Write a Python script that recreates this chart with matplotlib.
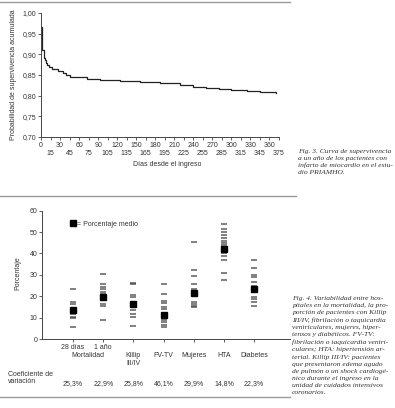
import matplotlib
matplotlib.use("Agg")
import matplotlib.pyplot as plt
from matplotlib.lines import Line2D

plt.rcParams["font.family"] = ["Liberation Sans", "DejaVu Sans"]

# ---------------- Fig. 3: curva de supervivencia ----------------
dias = [0, 1, 2, 4, 6, 8, 10, 13, 18, 26, 35, 40, 46, 56, 72, 93, 125,
        156, 188, 219, 240, 260, 280, 300, 325, 345, 370]
superv = [0.967, 0.939, 0.910, 0.890, 0.886, 0.880, 0.874, 0.870, 0.864,
          0.859, 0.854, 0.850, 0.846, 0.844, 0.841, 0.838, 0.836, 0.833,
          0.830, 0.826, 0.822, 0.819, 0.816, 0.813, 0.811, 0.808, 0.807]
y_ticks_sup = [0.70, 0.75, 0.80, 0.85, 0.90, 0.95, 1.00]

# ---------------- Fig. 4: variabilidad entre hospitales ----------------
categorias = ["28 días", "1 año", "\nKillip\nIII/IV", "\nFV-TV", "\nMujeres", "\nHTA", "\nDiabetes"]
val_28dias = [23.5, 17.5, 16.5, 14.5, 12.5, 11.5, 10.5, 10, 5.5]
val_1ano = [30.5, 25.8, 24.2, 23.5, 22, 21, 19, 16.5, 15.5, 9]
val_killip = [26, 25.5, 20.5, 19.5, 17.5, 15.5, 13.5, 11.5, 10.5, 6]
val_fvtv = [25.5, 21, 18, 17, 15, 14, 12, 9, 8, 6.5, 5.5]
val_mujeres = [45.5, 32.5, 29.5, 25.5, 23.5, 22.5, 20.5, 17.5, 16.5, 15.5, 14.8]
val_hta = [54, 51.5, 50, 48.5, 47, 46, 45, 44, 42, 40, 39, 37, 31, 27.5]
val_diabetes = [37, 33, 30, 29, 26.5, 25, 24, 22, 19.5, 18.5, 17.5, 15.5]
medias = [13.5, 19.8, 16.3, 11.3, 21.5, 42, 23.5]
coef_var = ["25,3%", "22,9%", "25,8%", "46,1%", "29,9%", "14,8%", "22,3%"]

W, H = 395, 408
fig = plt.figure(figsize=(W / 100, H / 100), dpi=100)

axis_col = "#444444"
txt_col = "#333333"
cap_font = ["Liberation Serif", "DejaVu Serif"]

# --- top chart ---
ax1 = fig.add_axes([41 / W, 1 - 137 / H, 238 / W, 124 / H])
ax1.step(dias, superv, where="post", color="#222222", lw=0.9)
ax1.set_xlim(0, 375)
ax1.set_ylim(0.70, 1.00)
ax1.set_yticks(y_ticks_sup)
ax1.set_yticklabels([f"{v:.2f}".replace(".", ",") for v in y_ticks_sup])
ax1.set_xticks(range(0, 361, 30))
ax1.set_xticks(range(15, 376, 30), minor=True)
ax1.set_xticklabels([str(d) for d in range(15, 376, 30)], minor=True)
ax1.tick_params(axis="both", which="both", length=2, width=0.6,
                labelsize=5, colors=axis_col, labelcolor=txt_col, pad=1.5)
ax1.tick_params(axis="x", which="minor", pad=7.5)
for s in ["top", "right"]:
    ax1.spines[s].set_visible(False)
for s in ["left", "bottom"]:
    ax1.spines[s].set_color(axis_col)
    ax1.spines[s].set_linewidth(0.7)
ax1.set_ylabel("Probabilidad de supervivencia acumulada", fontsize=5, color=txt_col)
ax1.yaxis.set_label_coords(-0.10, 0.5)
ax1.set_xlabel("Días desde el ingreso", fontsize=5, color=txt_col)
ax1.xaxis.set_label_coords(0.53, -0.195)

fig.text(298 / W, 1 - 149 / H,
         "Fig. 3. Curva de supervivencia\na un año de los pacientes con\n"
         "infarto de miocardio en el estu-\ndio PRIAMHO.",
         family=cap_font, style="italic",
         fontsize=5.4, va="top", ha="left", linespacing=1.4, color=txt_col)

# --- bottom chart ---
ax2 = fig.add_axes([42 / W, 1 - 339 / H, 248 / W, 128.3 / H])
grupos = [val_28dias, val_1ano, val_killip, val_fvtv, val_mujeres, val_hta, val_diabetes]
for i, vals in enumerate(grupos):
    ax2.plot([i + 1] * len(vals), vals, ls="none", marker="_", ms=3.8,
             mew=1.2, color="#3a3a3a", alpha=0.75)
ax2.plot(range(1, 8), medias, ls="none", marker="s", ms=4.5, color="black")
ax2.set_xlim(-0.03, 8.19)
ax2.set_ylim(0, 60)
ax2.set_yticks(range(0, 61, 10))
ax2.set_xticks(range(1, 8))
ax2.set_xticklabels(categorias, linespacing=1.25)
ax2.tick_params(axis="both", length=2, width=0.6, labelsize=5,
                colors=axis_col, labelcolor=txt_col, pad=1.5)
for s in ["top", "right"]:
    ax2.spines[s].set_visible(False)
for s in ["left", "bottom"]:
    ax2.spines[s].set_color(axis_col)
    ax2.spines[s].set_linewidth(0.7)
ax2.set_ylabel("Porcentaje", fontsize=5, color=txt_col)
ax2.yaxis.set_label_coords(-0.085, 0.51)

trans = ax2.get_xaxis_transform()
ax2.text(1.5, -0.128, "Mortalidad", transform=trans, ha="center", va="center",
         fontsize=5, color=txt_col)
for i, cv in enumerate(coef_var):
    ax2.text(i + 1, -0.345, cv, transform=trans, ha="center", va="center",
             fontsize=5, color=txt_col)
fig.text(8 / W, 1 - 378 / H, "Coeficiente de\nvariación", fontsize=5,
         va="center", ha="left", color=txt_col, linespacing=1.1)

leg_handle = Line2D([], [], ls="none", marker="s", ms=5, color="black")
ax2.legend([leg_handle], ["= Porcentaje medio"], loc="center left",
           bbox_to_anchor=(0.112, 0.895), frameon=False, fontsize=5,
           handlelength=0.8, handletextpad=0.2, borderpad=0, borderaxespad=0,
           labelcolor=txt_col)

fig.text(292 / W, 1 - 296 / H,
         "Fig. 4. Variabilidad entre hos-\npitales en la mortalidad, la pro-\n"
         "porción de pacientes con Killip\nIII/IV, fibrilación o taquicardia\n"
         "ventriculares, mujeres, hiper-\ntensos y diabéticos. FV-TV:\n"
         "fibrilación o taquicardia ventri-\nculares; HTA: hipertensión ar-\n"
         "terial. Killip III/IV: pacientes\nque presentaron edema agudo\n"
         "de pulmón o un shock cardiogé-\nnico durante el ingreso en la\n"
         "unidad de cuidados intensivos\ncoronarios.",
         family=cap_font, style="italic",
         fontsize=5.4, va="top", ha="left", linespacing=1.52, color=txt_col)

# rules of the page
for y_px, x_end in [(1.5, 290), (196, 296), (397, 290)]:
    fig.add_artist(Line2D([0, x_end / W], [1 - y_px / H] * 2,
                          transform=fig.transFigure, color="#999999", lw=1.0))

fig.savefig("out.png", dpi=100)
